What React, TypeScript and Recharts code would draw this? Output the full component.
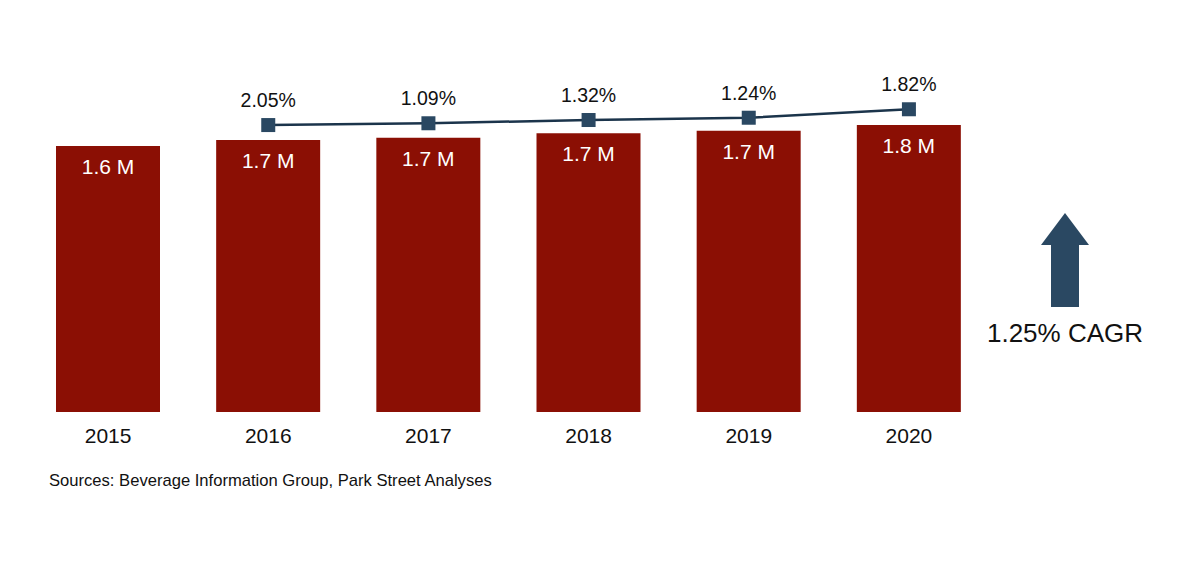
import { Bar, ComposedChart, LabelList, Line, XAxis, YAxis } from "recharts";

// volume in millions, growth line level on same scale
const years = ["2015", "2016", "2017", "2018", "2019", "2020"];
const volume = [1.633, 1.67, 1.684, 1.711, 1.727, 1.762];
const volumeLabels = ["1.6 M", "1.7 M", "1.7 M", "1.7 M", "1.7 M", "1.8 M"];
const growthLevel = [null, 1.762, 1.773, 1.793, 1.807, 1.859];
const growthLabels = ["", "2.05%", "1.09%", "1.32%", "1.24%", "1.82%"];
const cagrLabel = "1.25% CAGR";
const sourceNote = "Sources: Beverage Information Group, Park Street Analyses";

const FONT = "Arial, 'Liberation Sans', sans-serif";
const BAR = "#8b0f04";
const NAVY = "#2a4862";

const data = years.map((year, i) => ({
	year,
	volume: volume[i],
	growth: growthLevel[i],
}));

const YearTick = ({ x, y, payload }: any) => (
	<text x={x} y={y + 31} textAnchor="middle" fontSize={21} fill="#111" fontFamily={FONT}>
		{payload.value}
	</text>
);

const BarLabel = ({ x, y, width, index }: any) => (
	<text x={x + width / 2} y={y + 28} textAnchor="middle" fontSize={21} fill="#fff" fontFamily={FONT}>
		{volumeLabels[index]}
	</text>
);

const GrowthLabel = ({ x, y, index }: any) =>
	growthLabels[index] ? (
		<text x={x} y={y - 18} textAnchor="middle" fontSize={19.5} fill="#111" fontFamily={FONT}>
			{growthLabels[index]}
		</text>
	) : null;

const SquareDot = ({ cx, cy, index }: any) =>
	cx == null || cy == null ? null : (
		<rect key={index} x={cx - 7} y={cy - 7} width={14} height={14} fill={NAVY} />
	);

export default function App() {
	return (
		<div style={{ position: "absolute", left: 0, top: 0, width: 1200, height: 563, background: "#fff", fontFamily: FONT }}>
			<ComposedChart width={1200} height={563} data={data} margin={{ top: 86.3, right: 211, bottom: 111, left: 28 }}>
				<XAxis dataKey="year" height={40} axisLine={false} tickLine={false} tickSize={0} tickMargin={0} tick={<YearTick />} interval={0} />
				<YAxis hide domain={[0, 2]} />
				<Bar dataKey="volume" fill={BAR} barSize={104} isAnimationActive={false}>
					<LabelList dataKey="volume" content={<BarLabel />} />
				</Bar>
				<Line
					dataKey="growth"
					stroke="#1b344b"
					strokeWidth={2.5}
					dot={<SquareDot />}
					activeDot={false}
					isAnimationActive={false}
				>
					<LabelList dataKey="growth" content={<GrowthLabel />} />
				</Line>
			</ComposedChart>
			<svg width={1200} height={563} style={{ position: "absolute", left: 0, top: 0, pointerEvents: "none" }}>
				<polygon points="1065,213 1089,245 1079,245 1079,307 1051,307 1051,245 1041,245" fill={NAVY} />
				<text x={1065} y={342} textAnchor="middle" fontSize={26} fill="#111" fontFamily={FONT}>
					{cagrLabel}
				</text>
				<text x={49} y={486} fontSize={16.6} fill="#111" fontFamily={FONT}>
					{sourceNote}
				</text>
			</svg>
		</div>
	);
}
